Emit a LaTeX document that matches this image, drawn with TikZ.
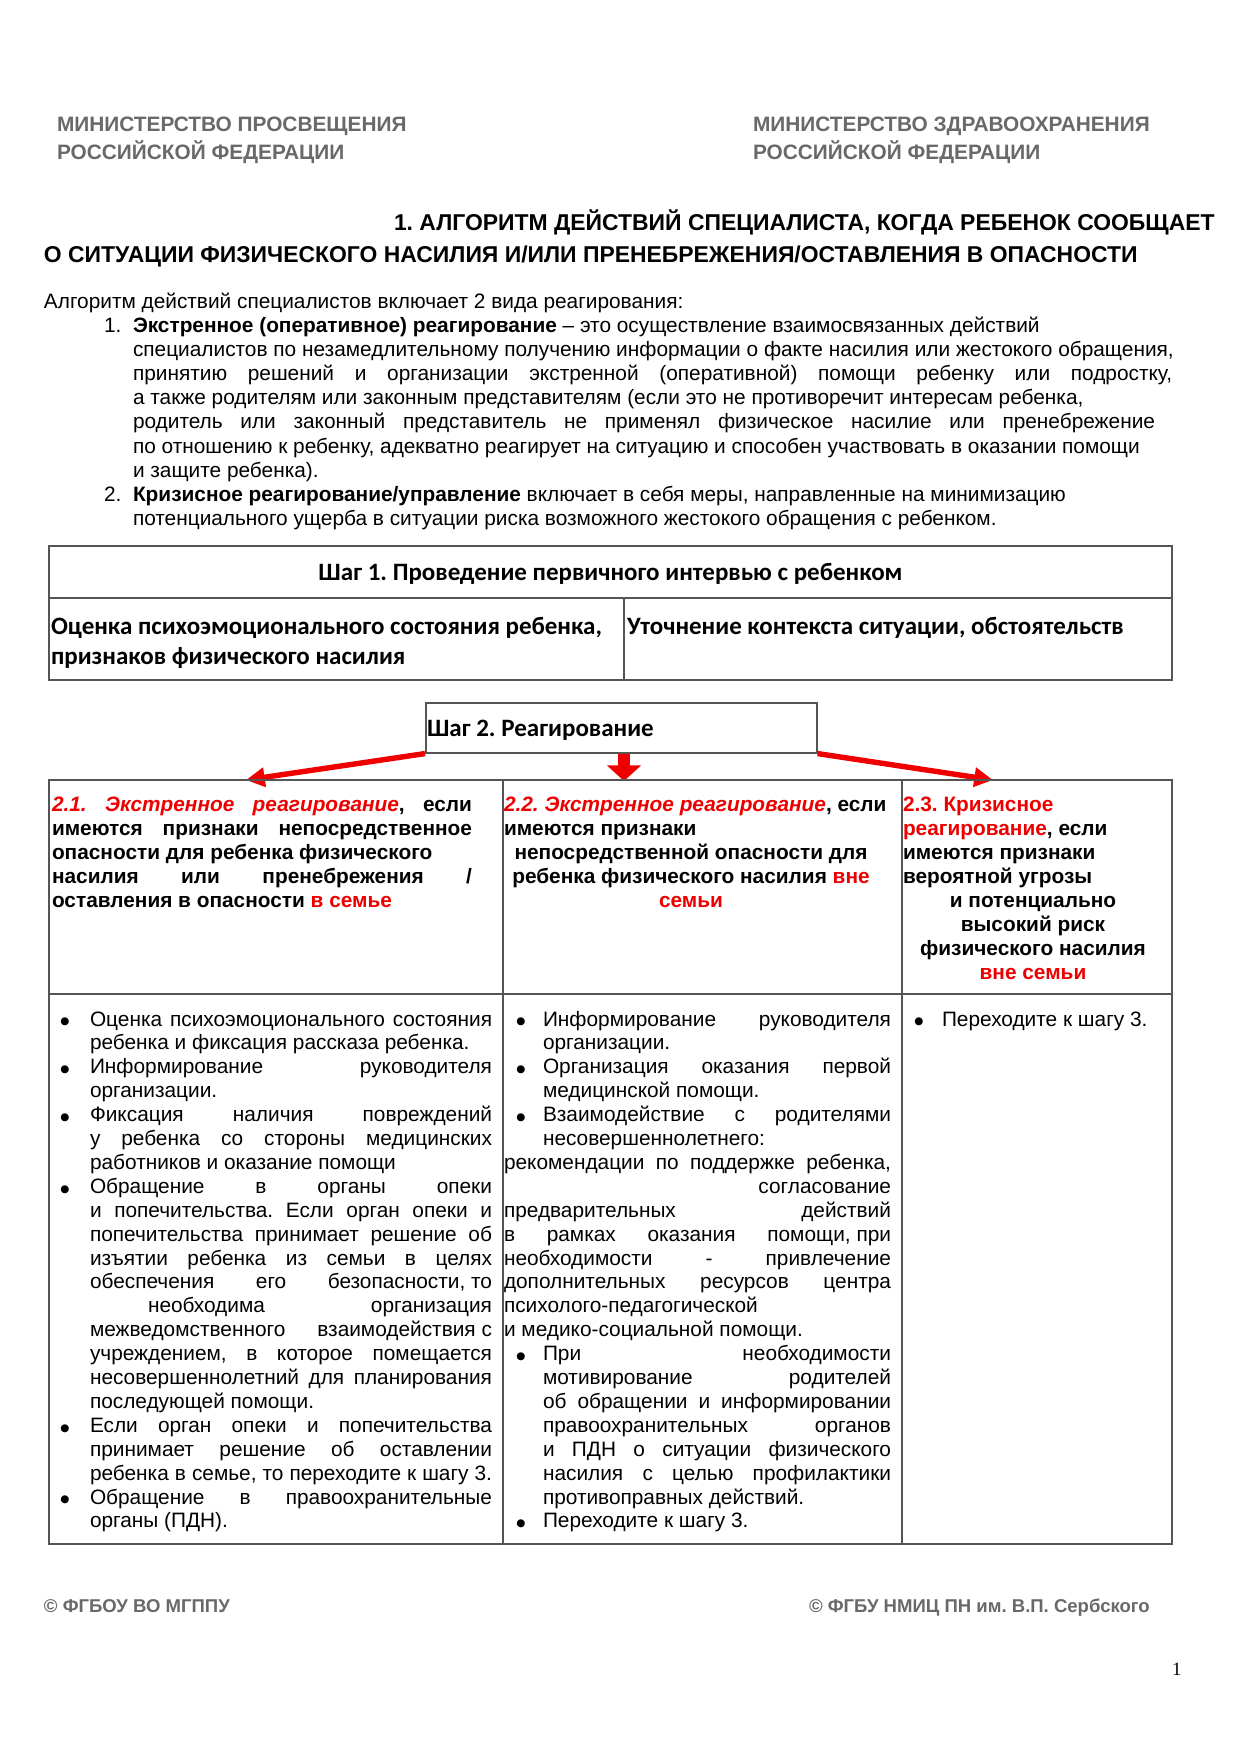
\documentclass[tikz,border=0pt]{standalone}
\usepackage{fontspec}
\setmainfont{Liberation Sans}
\newfontfamily\carl{Carlito}
\newfontfamily\serifx{Liberation Serif}
\newfontfamily\djv{DejaVu Sans}
\usetikzlibrary{arrows.meta}
\newdimen\pxu \pxu=0.48pt
\newdimen\bgap \bgap=25\pxu
\newdimen\uind \uind=39\pxu
\definecolor{rd}{RGB}{238,0,0}
\definecolor{gr}{RGB}{105,105,105}
\definecolor{tl}{RGB}{85,85,85}
\newcommand\bulx{\raisebox{0.6pt}{\djv\fontsize{5}{5}\selectfont ●}}
\newcommand\fsp{\kern.278em}
\newcommand\xJ[1]{\hbox to\hsize{#1}}
\newcommand\xL[1]{\hbox{#1}}
\newcommand\xC[1]{\hbox to\hsize{\hfil#1\hfil}}
\newcommand\xR[1]{\hbox to\hsize{\hfil#1}}
\newcommand\xBJ[1]{\hbox to\hsize{\llap{\hbox to0pt{\hss\bulx\hss}\hskip\bgap}#1}}
\newcommand\xBL[1]{\hbox{\llap{\hbox to0pt{\hss\bulx\hss}\hskip\bgap}#1}}
\newcommand\xUJ[1]{\hbox to\hsize{\hskip-\uind #1}}
\newcommand\xUL[1]{\hbox{\hskip-\uind #1}}
\newcommand\xblk[3]{\vtop{\hsize=#1\pxu\baselineskip=#2\pxu\lineskiplimit=-100pt #3}}
\frenchspacing
\begin{document}
\begin{tikzpicture}[x=0.48pt,y=-0.48pt]
\tikzset{
 txt/.style={anchor=base west, inner sep=0pt, outer sep=0pt},
 body/.style={txt, font=\fontsize{10}{12}\selectfont\frenchspacing},
 bodyb/.style={txt, font=\fontsize{10}{12}\selectfont\bfseries\frenchspacing},
 minis/.style={txt, text=gr, font=\fontsize{10}{12}\selectfont\bfseries},
 foot/.style={txt, text=gr, font=\fontsize{8.9}{11}\selectfont\bfseries},
 ttl/.style={txt, font=\fontsize{11}{13}\selectfont\bfseries},
 stp/.style={txt, font=\fontsize{12}{14}\selectfont\carl\bfseries},
 tline/.style={draw=tl, line width=0.75pt},
 redarr/.style={draw=rd, line width=2.6pt, -{Triangle[length=9pt,width=9pt]}},
 blockarr/.style={draw=rd, line width=6.2pt, -{Triangle[length=7.5pt,width=16pt]}},
}
\useasboundingbox[fill=white] (0,0) rectangle (1241,1755);

% ministries
\node[minis] (m1) at (57,131.5) {МИНИСТЕРСТВО ПРОСВЕЩЕНИЯ};
\node[minis] (m2) at (57,159.5) {РОССИЙСКОЙ ФЕДЕРАЦИИ};
\node[minis] (m3) at (753,131.5) {МИНИСТЕРСТВО ЗДРАВООХРАНЕНИЯ};
\node[minis] (m4) at (753,159.5) {РОССИЙСКОЙ ФЕДЕРАЦИИ};

% title
\node[ttl] (t1) at (394,230.5) {1. АЛГОРИТМ ДЕЙСТВИЙ СПЕЦИАЛИСТА, КОГДА РЕБЕНОК СООБЩАЕТ};
\node[ttl] (t2) at (44,262.5) {О СИТУАЦИИ ФИЗИЧЕСКОГО НАСИЛИЯ И/ИЛИ ПРЕНЕБРЕЖЕНИЯ/ОСТАВЛЕНИЯ В ОПАСНОСТИ};

% intro
\node[body] (i0) at (44,308.5) {Алгоритм действий специалистов включает 2 вида реагирования:};
\node[body] (n1) at (104,332.5) {1.};
\node[body] (n2) at (104,501.5) {2.};
\node[body] (i1) at (133,332.5) {\xblk{1044}{24.1}{%
\xL{\textbf{Экстренное (оперативное) реагирование} – это осуществление взаимосвязанных действий}
\xL{специалистов по незамедлительному получению информации о факте насилия или жестокого обращения,}
\hbox to1039\pxu{принятию решений и организации экстренной (оперативной) помощи ребенку или подростку,}
\xL{а также родителям или законным представителям (если это не противоречит интересам ребенка,}
\hbox to1022\pxu{родитель или законный представитель не применял физическое насилие или пренебрежение}
\xL{по отношению к ребенку, адекватно реагирует на ситуацию и способен участвовать в оказании помощи}
\xL{и защите ребенка).}}};
\node[body] (i2) at (133,501.5) {\xblk{1044}{24.1}{%
\xL{\textbf{Кризисное реагирование/управление} включает в себя меры, направленные на минимизацию}
\xL{потенциального ущерба в ситуации риска возможного жестокого обращения с ребенком.}}};

% step 1 table
\draw[tline] (49,546) rectangle (1172,680);
\draw[tline] (49,598) -- (1172,598);
\draw[tline] (624,598) -- (624,680);
\node[stp, anchor=base] (s1h) at (610.5,580) {Шаг 1. Проведение первичного интервью с ребенком};
\node[stp] (s1a) at (51,634) {Оценка психоэмоционального состояния ребенка,};
\node[stp] (s1b) at (51,664) {признаков физического насилия};
\node[stp] (s1c) at (627,634) {Уточнение контекста ситуации, обстоятельств};

% step 2 box
\node[draw=tl, line width=0.75pt, inner sep=0pt, minimum width=187.7pt, minimum height=24pt, anchor=north west] (s2) at (425,702) {};
\node[stp] (s2t) at (427,736) {Шаг 2. Реагирование};

% arrows
\coordinate (a1) at (246,780);
\coordinate (a2) at (624,781);
\coordinate (a3) at (993,780);
\draw[redarr] (s2.south west) -- (a1);
\draw[redarr] (s2.south east) -- (a3);
\draw[blockarr] (s2.south -| a2) -- (a2);

% main table
\draw[tline] (49,780) rectangle (1172,1544);
\draw[tline] (49,994) -- (1172,994);
\draw[tline] (503,780) -- (503,1544);
\draw[tline] (902,780) -- (902,1544);

% header row
\node[bodyb] (h1) at (52,811) {\xblk{420}{24}{%
\xJ{{\color{rd}\itshape 2.1. Экстренное реагирование}, если}
\xJ{имеются признаки непосредственное}
\xL{опасности для ребенка физического}
\xJ{насилия или пренебрежения /}
\xL{оставления в опасности {\color{rd}в семье}}}};
\node[bodyb] (h2) at (504,811) {\xblk{374}{24}{%
\xL{{\color{rd}\itshape 2.2. Экстренное реагирование}, если}
\xL{имеются признаки}
\xC{непосредственной опасности для}
\xC{ребенка физического насилия {\color{rd}вне}}
\xC{{\color{rd}семьи}}}};
\node[bodyb] (h3) at (903,811) {\xblk{260}{24}{%
\xL{{\color{rd}2.3. Кризисное}}
\xL{{\color{rd}реагирование}, если}
\xL{имеются признаки}
\xL{вероятной угрозы}
\xC{и потенциально}
\xC{высокий риск}
\xC{физического насилия}
\xC{{\color{rd}вне семьи}}}};

% body row
\node[body] (b1) at (90,1026) {\xblk{402}{23.9}{\bgap=25\pxu
\xBJ{Оценка психоэмоционального состояния}
\xL{ребенка и фиксация рассказа ребенка.}
\xBJ{Информирование руководителя}
\xL{организации.}
\xBJ{Фиксация наличия повреждений}
\xJ{у ребенка со стороны медицинских}
\xL{работников и оказание помощи}
\xBJ{Обращение в органы опеки}
\xJ{и попечительства. Если орган опеки и}
\xJ{попечительства принимает решение об}
\xJ{изъятии ребенка из семьи в целях}
\xJ{обеспечения его безопасности,\fsp то}
\hbox to\hsize{\hskip58\pxu необходима\hfil организация}
\xJ{межведомственного взаимодействия\fsp с}
\xJ{учреждением, в которое помещается}
\xJ{несовершеннолетний для планирования}
\xL{последующей помощи.}
\xBJ{Если орган опеки и попечительства}
\xJ{принимает решение об оставлении}
\xJ{ребенка в семье, то переходите к шагу 3.}
\xBJ{Обращение в правоохранительные}
\xL{органы (ПДН).}}};
\node[body] (b2) at (543,1026) {\xblk{348}{23.9}{\bgap=22\pxu
\xBJ{Информирование руководителя}
\xL{организации.}
\xBJ{Организация оказания первой}
\xL{медицинской помощи.}
\xBJ{Взаимодействие с родителями}
\xL{несовершеннолетнего:}
\xUJ{рекомендации по поддержке ребенка,}
\xR{согласование}
\xUJ{предварительных действий}
\xUJ{в рамках оказания помощи,\fsp при}
\xUJ{необходимости - привлечение}
\xUJ{дополнительных ресурсов центра}
\xUL{психолого-педагогической}
\xUL{и медико-социальной помощи.}
\xBJ{При необходимости}
\xJ{мотивирование родителей}
\xJ{об обращении и информировании}
\xJ{правоохранительных органов}
\xJ{и ПДН о ситуации физического}
\xJ{насилия с целью профилактики}
\xL{противоправных действий.}
\xBL{Переходите к шагу 3.}}};
\node[body] (b3) at (942,1026) {\xblk{220}{23.9}{\bgap=23\pxu
\xBL{Переходите к шагу 3.}}};

% footer
\node[foot] (f1) at (44,1612) {© ФГБОУ ВО МГППУ};
\node[foot] (f2) at (809,1612) {© ФГБУ НМИЦ ПН им. В.П. Сербского};
\node[txt, font=\serifx\fontsize{9}{10}\selectfont] (pg) at (1172,1675) {1};
\end{tikzpicture}
\end{document}
